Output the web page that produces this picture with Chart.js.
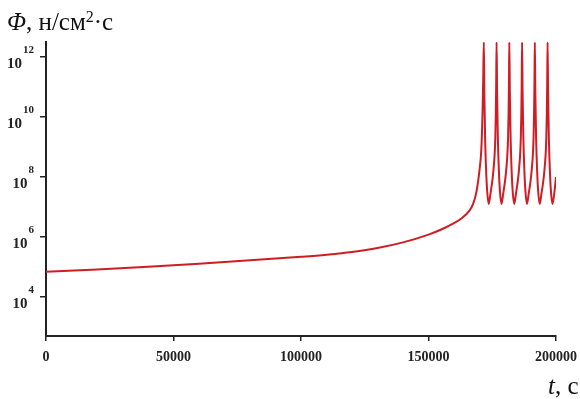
<!DOCTYPE html>
<html>
<head>
<meta charset="utf-8">
<script src="https://cdn.jsdelivr.net/npm/chart.js@4"></script>
<style>
  body { margin: 0; background: #fff; }
  #wrap { width: 580px; height: 399px; position: relative; }
</style>
</head>
<body>
<div id="wrap"><canvas id="fluxChart"></canvas></div>
<script>
// time, s
const times = [
  0, 20000, 40000, 60000, 80000, 100000, 110000, 120000, 130000, 140000,
  150000, 155000, 160000, 163000, 166000, 167500, 168800, 170100, 170700, 171150, 171450, 171700,
  171900, 172200, 172600, 173000, 173600, 174300, 175000, 175500, 175900, 176200, 176400, 176550, 176700,
  176900, 177200, 177600, 178000, 178600, 179300, 180000, 180500, 180900, 181200, 181400, 181550, 181700,
  181900, 182200, 182600, 183000, 183600, 184300, 185000, 185500, 185900, 186200, 186400, 186550, 186700,
  186900, 187200, 187600, 188000, 188600, 189300, 190000, 190500, 190900, 191200, 191400, 191550, 191700,
  191900, 192200, 192600, 193000, 193600, 194300, 195000, 195500, 195900, 196200, 196400, 196550, 196700,
  196900, 197200, 197600, 198000, 198600, 199300, 200000
]
// neutron flux, n/cm2*s
const flux = [
  6.9e4, 8.3e4, 1.02e5, 1.29e5, 1.66e5, 2.19e5, 2.57e5, 3.16e5, 4.27e5, 6.6e5,
  1.2e6, 1.78e6, 2.9e6, 4.2e6, 7.4e6, 1.26e7, 3.2e7, 2e8, 7.9e8, 1e10, 1.6e11, 3.16e12,
  6.3e10, 2e9, 1.6e8, 3.5e7, 1.26e7, 2.8e7, 7.1e7, 1.8e8, 5e8, 2e9, 1.26e10, 1.26e11, 3.16e12,
  6.3e10, 2e9, 1.6e8, 3.5e7, 1.26e7, 2.8e7, 7.1e7, 1.8e8, 5e8, 2e9, 1.26e10, 1.26e11, 3.16e12,
  6.3e10, 2e9, 1.6e8, 3.5e7, 1.26e7, 2.8e7, 7.1e7, 1.8e8, 5e8, 2e9, 1.26e10, 1.26e11, 3.16e12,
  6.3e10, 2e9, 1.6e8, 3.5e7, 1.26e7, 2.8e7, 7.1e7, 1.8e8, 5e8, 2e9, 1.26e10, 1.26e11, 3.16e12,
  6.3e10, 2e9, 1.6e8, 3.5e7, 1.26e7, 2.8e7, 7.1e7, 1.8e8, 5e8, 2e9, 1.26e10, 1.26e11, 3.16e12,
  6.3e10, 2e9, 1.6e8, 3.5e7, 1.26e7, 2.8e7, 1e8
]
const yTickExps = [4, 6, 8, 10, 12]
const xTicks = [0, 50000, 100000, 150000, 200000]

const axisColor = '#222'
const serif = "'Liberation Serif', 'Times New Roman', serif"

const labelsPlugin = {
  id: 'labels',
  afterDraw(chart) {
    const ctx = chart.ctx
    const y = chart.scales.y
    ctx.save()
    ctx.fillStyle = axisColor
    ctx.textBaseline = 'middle'
    ctx.textAlign = 'right'
    yTickExps.forEach(e => {
      let py = y.getPixelForValue(Math.pow(10, e))
      ctx.font = 'bold 11px ' + serif
      let expText = String(e)
      let ew = ctx.measureText(expText).width
      ctx.fillText(expText, 34, py - 7)
      ctx.font = 'bold 15px ' + serif
      ctx.fillText('10', 34 - ew - 1, py + 7)
    })

    // axis titles
    ctx.fillStyle = '#111'
    ctx.textAlign = 'left'
    ctx.textBaseline = 'alphabetic'
    let x = 7
    ctx.font = 'italic 25px ' + serif
    ctx.fillText('\u03A6', x, 30)
    x += ctx.measureText('\u03A6').width
    ctx.font = '25px ' + serif
    ctx.fillText(', \u043D/\u0441\u043C', x, 30)
    x += ctx.measureText(', \u043D/\u0441\u043C').width
    ctx.font = '16px ' + serif
    ctx.fillText('2', x, 22)
    x += ctx.measureText('2').width
    ctx.font = '25px ' + serif
    ctx.fillText('\u00B7\u0441', x, 30)

    x = 548
    ctx.font = 'italic 25px ' + serif
    ctx.fillText('t', x, 394)
    x += ctx.measureText('t').width
    ctx.font = '25px ' + serif
    ctx.fillText(', \u0441', x, 394)
    ctx.restore()
  }
}

new Chart(document.getElementById('fluxChart'), {
  type: 'line',
  data: {
    datasets: [{
      data: times.map((t, i) => ({ x: t, y: flux[i] })),
      borderColor: '#d01c24',
      borderWidth: 2,
      pointRadius: 0,
      fill: false,
      cubicInterpolationMode: 'monotone'
    }]
  },
  options: {
    animation: false,
    responsive: true,
    maintainAspectRatio: false,
    layout: {
      padding: { left: 0, right: 24, top: 42, bottom: 0 }
    },
    plugins: {
      legend: { display: false },
      tooltip: { enabled: false }
    },
    scales: {
      x: {
        type: 'linear',
        min: 0,
        max: 200000,
        afterBuildTicks: s => { s.ticks = xTicks.map(v => ({ value: v })) },
        afterFit: s => { s.height = 63; s.paddingLeft = 0; s.paddingRight = 0 },
        grid: { drawOnChartArea: false, drawTicks: true, tickLength: 5, color: axisColor, lineWidth: 1.5 },
        border: { display: true, color: axisColor, width: 2 },
        ticks: {
          color: axisColor,
          padding: 8,
          maxRotation: 0,
          font: { family: serif, size: 14, weight: 'bold' },
          callback: v => String(v)
        }
      },
      y: {
        type: 'logarithmic',
        min: 500,
        max: 3.16e12,
        bounds: 'data',
        afterBuildTicks: s => { s.ticks = yTickExps.map(e => ({ value: Math.pow(10, e) })) },
        afterFit: s => { s.width = 46; s.paddingTop = 0; s.paddingBottom = 0 },
        grid: { drawOnChartArea: false, drawTicks: true, tickLength: 6, color: axisColor, lineWidth: 1.5 },
        border: { display: true, color: axisColor, width: 2 },
        ticks: { display: false }
      }
    }
  },
  plugins: [labelsPlugin]
})
</script>
</body>
</html>
